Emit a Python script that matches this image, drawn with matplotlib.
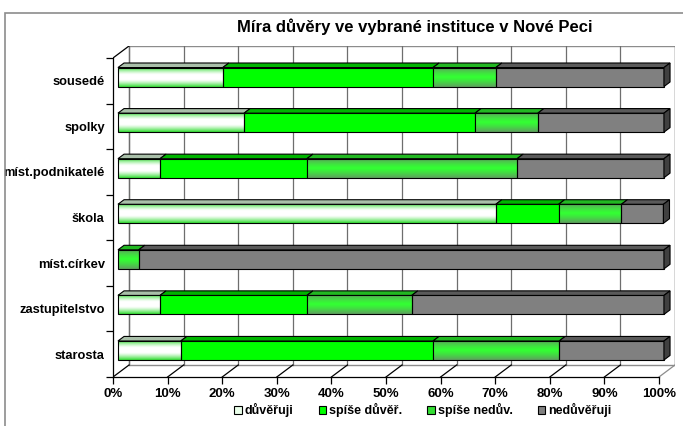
import numpy as np
import matplotlib
matplotlib.use('Agg')
import matplotlib.pyplot as plt
from matplotlib.patches import Rectangle, Polygon, Patch
from matplotlib.colors import to_rgb

plt.rcParams['font.family'] = ['Liberation Sans', 'DejaVu Sans']

# data (percent of respondents), bottom -> top
categories = ['starosta', 'zastupitelstvo', 'míst.církev', 'škola',
              'míst.podnikatelé', 'spolky', 'sousedé']
duveruji = [11.5, 7.7, 0.0, 69.2, 7.7, 23.1, 19.2]
spise_duver = [46.2, 26.9, 0.0, 11.5, 26.9, 42.3, 38.5]
spise_neduv = [23.1, 19.2, 3.8, 11.5, 38.5, 11.5, 11.5]
neduveruji = [19.2, 46.2, 96.2, 7.7, 26.9, 23.1, 30.8]
series_names = ['důvěřuji', 'spíše důvěř.', 'spíše nedův.', 'nedůvěřuji']
title = 'Míra důvěry ve vybrané instituce v Nové Peci'

W, H = 683, 426
fig = plt.figure(figsize=(W / 100, H / 100), dpi=100)

# outer chart frame
fig.patches.append(Rectangle((5 / W, -0.1), 1.2, 1 - 13 / H + 0.1, transform=fig.transFigure,
                             facecolor='none', edgecolor='#8c8c8c', lw=1.2))

ax = fig.add_axes([113 / W, 49 / H, 562 / W, 331 / H])
ax.set_facecolor('none')

# 3d depth in data units
DX = 16 / 5.46
DY = 12 / 45.6
d1, d2 = 0.31, 0.69          # bar front/back depth fraction
bh = 0.417                   # bar height

# back wall and grid
ax.add_patch(Rectangle((DX, -0.5 + DY), 100, 7, facecolor='white', edgecolor='#8c8c8c', lw=1, zorder=0))
for k in range(0, 101, 10):
    ax.plot([k + DX, k + DX], [-0.5 + DY, 6.5 + DY], color='#6e6e6e', lw=0.9, zorder=1)
    ax.plot([k, k + DX], [-0.5, -0.5 + DY], color='black' if k < 100 else '#8c8c8c', lw=0.9, zorder=1)
ax.plot([0, DX], [6.5, 6.5 + DY], color='black', lw=0.9, zorder=1)


def gradient(edge, center, n=64, plateau=0.0):
    t = np.linspace(-1, 1, n)
    w = np.clip((np.abs(t) - plateau) / (1 - plateau), 0, 1) ** 1.3
    e, c = np.array(to_rgb(edge)), np.array(to_rgb(center))
    return (c[None, :] * (1 - w[:, None]) + e[None, :] * w[:, None]).reshape(n, 1, 3)


styles = [
    dict(grad=gradient('#33dd33', '#ffffff', plateau=0.25), top='#a9bfa9'),
    dict(face='#00ff00', top='#00b400'),
    dict(grad=gradient('#5f9f5f', '#33ff33'), top='#22b822'),
    dict(face='#808080', top='#5a5a5a'),
]
end_color = '#404040'

series = [duveruji, spise_duver, spise_neduv, neduveruji]
ypos = np.arange(len(categories))
for i, y in enumerate(ypos):
    left = 0.0
    yb = y + d1 * DY - bh / 2
    for s, vals in enumerate(series):
        w = vals[i]
        if w <= 0:
            continue
        x0 = left + d1 * DX
        st = styles[s]
        if 'grad' in st:
            ax.imshow(st['grad'], extent=(x0, x0 + w, yb, yb + bh), aspect='auto',
                      interpolation='bilinear', zorder=3)
            ax.barh(y + d1 * DY, w, left=x0, height=bh, facecolor='none',
                    edgecolor='black', lw=0.8, zorder=4)
        else:
            ax.barh(y + d1 * DY, w, left=x0, height=bh, color=st['face'],
                    edgecolor='black', lw=0.8, zorder=3)
        ddx, ddy = (d2 - d1) * DX, (d2 - d1) * DY
        ax.add_patch(Polygon([(x0, yb + bh), (x0 + w, yb + bh), (x0 + w + ddx, yb + bh + ddy),
                              (x0 + ddx, yb + bh + ddy)], closed=True, facecolor=st['top'],
                             edgecolor='black', lw=0.8, zorder=4))
        left += w
    xe = left + d1 * DX
    ax.add_patch(Polygon([(xe, yb), (xe, yb + bh), (xe + ddx, yb + bh + ddy), (xe + ddx, yb + ddy)],
                         closed=True, facecolor=end_color, edgecolor='black', lw=0.8, zorder=4))

ax.set_xlim(0, 100 + DX)
ax.set_ylim(-0.5, 6.5 + DY)

for side in ['top', 'right']:
    ax.spines[side].set_visible(False)
ax.spines['left'].set_bounds(-0.5, 6.5)
ax.spines['bottom'].set_bounds(0, 100)
ax.spines['left'].set_linewidth(0.9)
ax.spines['bottom'].set_linewidth(0.9)

ax.set_xticks(range(0, 101, 10))
ax.set_xticklabels([f'{k}%' for k in range(0, 101, 10)], fontsize=9.5, fontweight='bold')
ax.tick_params(axis='x', length=5, width=0.9, pad=3)

ax.set_yticks(np.arange(-0.5, 7, 1))
ax.set_yticklabels([])
ax.set_yticks(ypos, minor=True)
ax.set_yticklabels(categories, minor=True, fontsize=9.3, fontweight='bold')
ax.tick_params(axis='y', which='major', length=5, width=0.9)
ax.tick_params(axis='y', which='minor', length=0, pad=6)

fig.text(415 / W, 1 - 27 / H, title, ha='center', va='center', fontsize=12, fontweight='bold')

handles = [Patch(facecolor='#eaffea', edgecolor='black', lw=0.8),
           Patch(facecolor='#00ff00', edgecolor='black', lw=0.8),
           Patch(facecolor='#33dd33', edgecolor='black', lw=0.8),
           Patch(facecolor='#808080', edgecolor='black', lw=0.8)]
fig.legend(handles, series_names, loc='center', bbox_to_anchor=(423 / W, 16 / H), ncol=4,
           frameon=False, prop={'size': 9, 'weight': 'bold'}, handlelength=0.6, handleheight=0.6,
           handletextpad=0.25, columnspacing=2.0, borderaxespad=0)

fig.savefig('out.png', dpi=100)
